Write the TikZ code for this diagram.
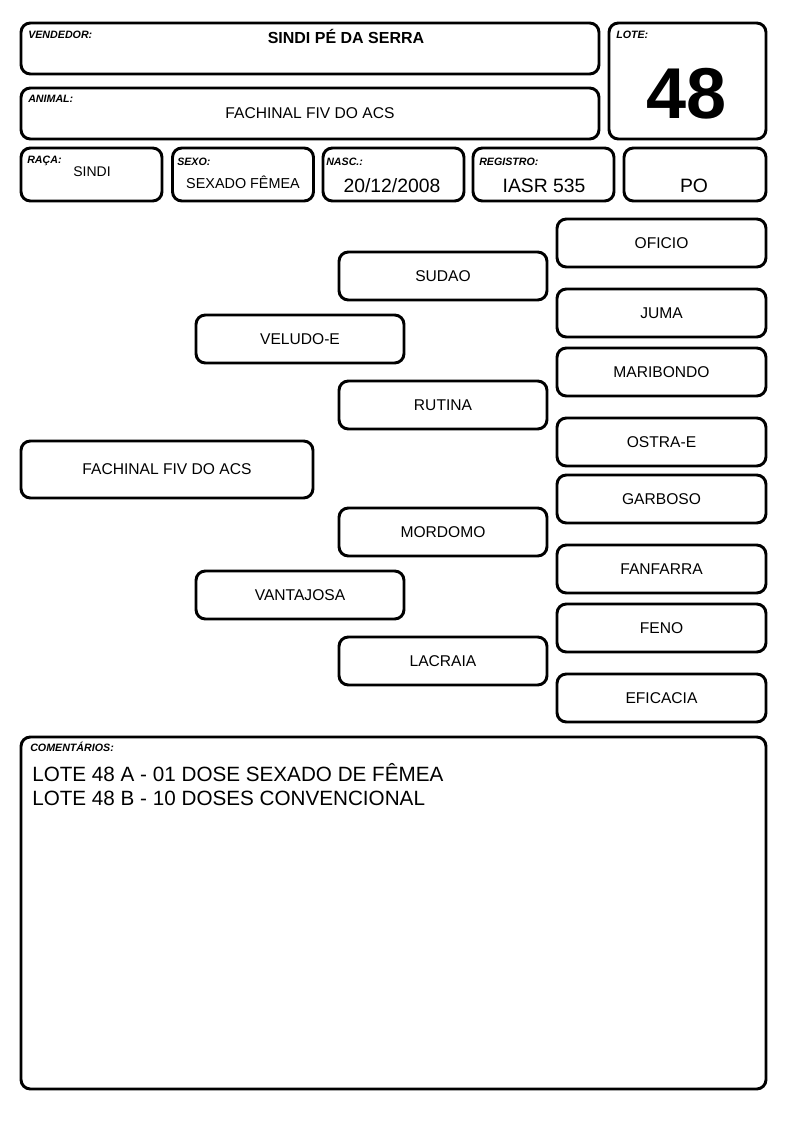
\documentclass[tikz,border=0pt]{standalone}
\usepackage{fontspec}
\setmainfont{Liberation Sans}
\usetikzlibrary{positioning}

\begin{document}
\begin{tikzpicture}[x=0.75pt,y=-0.75pt,
        % define styles
        box/.style={
             draw,
             line width=2.2pt,
             rounded corners=7pt,
             inner sep=0pt
        },
        pedbox/.style={
             box,
             minimum width=156pt,
             minimum height=36pt,
             font=\fontsize{11.7}{14}\selectfont
        },
        tag/.style={
             anchor=base west,
             inner sep=0pt,
             font=\fontsize{8}{9}\selectfont\bfseries\itshape
        },
        val/.style={
             anchor=base,
             inner sep=0pt,
             font=\fontsize{14.5}{16}\selectfont
        }
    ]
        \useasboundingbox (0,0) rectangle (794,1123);

        % Header: vendedor, animal and lote
        \node[box, minimum width=433.5pt, minimum height=38.25pt] at (310,48.5) (vend) {};
        \node[tag] at (28,38.8) (vendtag) {VENDEDOR:};
        \node[val, font=\fontsize{12}{14}\selectfont\bfseries] at (346,43.2) (vendname) {SINDI PÉ DA SERRA};

        \node[box, minimum width=433.5pt, minimum height=38.25pt, font=\fontsize{11.7}{14}\selectfont] at (310,113.5) (anim) {FACHINAL FIV DO ACS};
        \node[tag] at (28,103) (animtag) {ANIMAL:};

        \node[box, minimum width=117.75pt, minimum height=87pt] at (687.5,81) (lote) {};
        \node[tag] at (616,38.8) (lotetag) {LOTE:};
        \node[val, font=\fontsize{54}{60}\selectfont\bfseries] at (687,118.8) (lotenum) {48};

        % Second row: raca, sexo, nasc, registro
        \node[box, minimum width=105.75pt, minimum height=39.75pt] at (91.5,174.5) (raca) {};
        \node[box, minimum width=105.75pt, minimum height=39.75pt] at (243,174.5) (sexo) {};
        \node[box, minimum width=105.75pt, minimum height=39.75pt] at (393.5,174.5) (nasc) {};
        \node[box, minimum width=105.75pt, minimum height=39.75pt] at (543.5,174.5) (reg) {};
        \node[box, minimum width=106.5pt, minimum height=39.75pt] at (695,174.5) (po) {};

        \node[tag] at (27,163.8) (racatag) {RAÇA:};
        \node[tag] at (177,165.8) (sexotag) {SEXO:};
        \node[tag] at (326,165.8) (nasctag) {NASC.:};
        \node[tag] at (479,165.8) (regtag) {REGISTRO:};

        \node[val, font=\fontsize{10.5}{12}\selectfont] at (92,177) (racaval) {SINDI};
        \node[val, font=\fontsize{10.8}{12}\selectfont] at (243,188.2) (sexoval) {SEXADO FÊMEA};
        \node[val] at (392,192.9) (nascval) {20/12/2008};
        \node[val] at (544,192.9) (regval) {IASR 535};
        \node[val] at (694,192.9) (poval) {PO};

        % Pedigree: animal, parents, grandparents, great-grandparents
        \node[pedbox, minimum width=219pt, minimum height=42.75pt] at (167,469.5) (an) {FACHINAL FIV DO ACS};

        \node[pedbox] at (300,339) (p) {VELUDO-E};
        \node[pedbox] at (300,595) (m) {VANTAJOSA};

        \node[pedbox] at (443,276) (pp) {SUDAO};
        \node[pedbox] at (443,405) (pm) {RUTINA};
        \node[pedbox] at (443,532) (mp) {MORDOMO};
        \node[pedbox] at (443,661) (mm) {LACRAIA};

        \node[pedbox, minimum width=156.75pt] at (661.5,243) (ppp) {OFICIO};
        \node[pedbox, minimum width=156.75pt] at (661.5,313) (ppm) {JUMA};
        \node[pedbox, minimum width=156.75pt] at (661.5,372) (pmp) {MARIBONDO};
        \node[pedbox, minimum width=156.75pt] at (661.5,442) (pmm) {OSTRA-E};
        \node[pedbox, minimum width=156.75pt] at (661.5,499) (mpp) {GARBOSO};
        \node[pedbox, minimum width=156.75pt] at (661.5,569) (mpm) {FANFARRA};
        \node[pedbox, minimum width=156.75pt] at (661.5,628) (mmp) {FENO};
        \node[pedbox, minimum width=156.75pt] at (661.5,698) (mmm) {EFICACIA};

        % Comments
        \node[box, minimum width=558.75pt, minimum height=264pt] at (393.5,913) (com) {};
        \node[tag] at (30,751.8) (comtag) {COMENTÁRIOS:};
        \node[tag, font=\fontsize{15.5}{18}\selectfont] at (32,781.4) (com1) {LOTE 48 A - 01 DOSE SEXADO DE FÊMEA};
        \node[tag, font=\fontsize{15.5}{18}\selectfont] at (32,805.4) (com2) {LOTE 48 B - 10 DOSES CONVENCIONAL};
    \end{tikzpicture}
\end{document}
